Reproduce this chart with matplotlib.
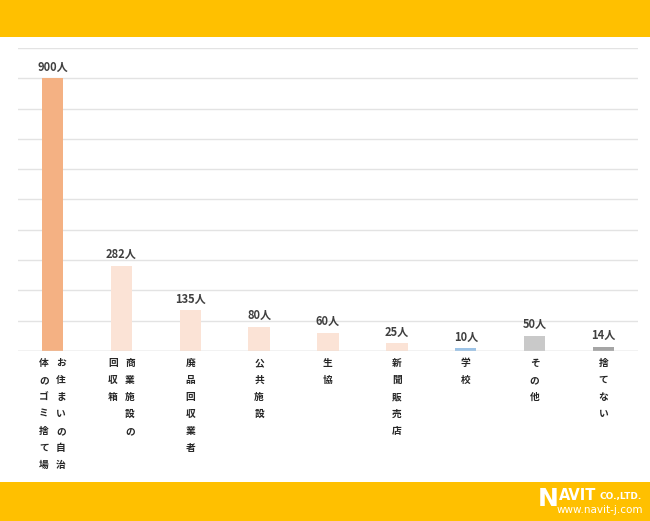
import matplotlib
matplotlib.use("Agg")
import matplotlib.pyplot as plt
from matplotlib.patches import Rectangle

plt.rcParams['font.family'] = ['Noto Sans CJK JP', 'DejaVu Sans']

categories = ["お住まいの自治体のゴミ捨て場", "商業施設の回収箱", "廃品回収業者", "公共施設",
              "生協", "新聞販売店", "学校", "その他", "捨てない"]
values = [900, 282, 135, 80, 60, 25, 10, 50, 14]
value_labels = ["900人", "282人", "135人", "80人", "60人", "25人", "10人", "50人", "14人"]
# characters per vertical column (columns run right to left)
label_columns = [[7, 7], [5, 3], [6], [4], [2], [5], [2], [3], [4]]
colors = ["#F4B183", "#FBE3D6", "#FBE3D6", "#FBE3D6", "#FBE3D6", "#FBE3D6",
          "#9DC3E6", "#C9C9C9", "#A5A5A5"]
ymax = 1000
ystep = 100

W, H = 650, 521
fig = plt.figure(figsize=(W / 100, H / 100), dpi=100)
fig.patch.set_facecolor("white")

# top & bottom bands
fig.patches.append(Rectangle((0, (H - 37) / H), 1, 37 / H, transform=fig.transFigure,
                             facecolor="#FFC000", edgecolor="none", zorder=0))
fig.patches.append(Rectangle((0, 0), 1, 39 / H, transform=fig.transFigure,
                             facecolor="#FFC000", edgecolor="none", zorder=0))

left, right, top, bottom = 18, 638, 48, 351
ax = fig.add_axes([left / W, (H - bottom) / H, (right - left) / W, (bottom - top) / H])
x = list(range(len(categories)))
ax.bar(x, values, width=0.31, color=colors, zorder=3)
ax.set_xlim(-0.5, len(categories) - 0.5)
ax.set_ylim(0, ymax)
ax.set_yticks(range(0, ymax + 1, ystep))
ax.grid(axis="y", color="#E3E3E3", linewidth=1, zorder=0)
for s in ax.spines.values():
    s.set_visible(False)
ax.axhline(0, color="#D9D9D9", linewidth=1, zorder=4)
ax.tick_params(left=False, bottom=False, labelleft=False, labelbottom=False)
ax.set_facecolor("none")

for i, (v, lab) in enumerate(zip(values, value_labels)):
    ax.annotate(lab, xy=(i, v), xytext=(0, 11), textcoords="offset pixels",
                ha="center", va="center", fontsize=8, fontweight="bold", color="#404040")

# vertical category labels
row_h = 17
col_gap = 17
for i, (cat, cols) in enumerate(zip(categories, label_columns)):
    ncol = len(cols)
    pos = 0
    for c, n in enumerate(cols):
        chars = cat[pos:pos + n]
        pos += n
        dx = ((ncol - 1) / 2 - c) * col_gap
        for r, ch in enumerate(chars):
            ax.annotate(ch, xy=(i, 0), xytext=(dx, -12 - r * row_h), textcoords="offset pixels",
                        ha="center", va="center", fontsize=7, fontweight="bold", color="#262626")

# logo
fig.text(538 / W, (H - 506) / H, "N", fontsize=18, fontweight="bold", color="white",
         ha="left", va="baseline", family="DejaVu Sans")
fig.text(559 / W, (H - 500) / H, "AVIT", fontsize=10.5, fontweight="bold", color="white",
         ha="left", va="baseline", family="DejaVu Sans")
fig.text(599 / W, (H - 499) / H, "CO.,LTD.", fontsize=6.5, fontweight="bold", color="white",
         ha="left", va="baseline", family="DejaVu Sans")
fig.text(643 / W, (H - 513) / H, "www.navit-j.com", fontsize=7.5, color="white",
         ha="right", va="baseline", family="DejaVu Sans")

fig.savefig("out.png", dpi=100, facecolor="white")
